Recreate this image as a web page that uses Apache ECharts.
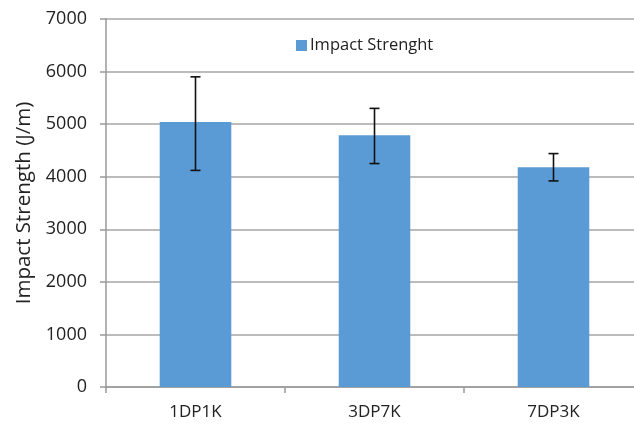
<!DOCTYPE html>
<html><head><meta charset="utf-8">
<script src="https://cdn.jsdelivr.net/npm/echarts@6/dist/echarts.min.js"></script>
<style>html,body{margin:0;padding:0;background:#fff;overflow:hidden}#c{width:644px;height:424px}</style>
</head><body><div id="c"></div>
<script>
const categories = ['1DP1K', '3DP7K', '7DP3K'];
const values = [5040, 4790, 4180];
const errLow = [4120, 4250, 3920];
const errHigh = [5900, 5300, 4440];
const yTicks = [0, 1000, 2000, 3000, 4000, 5000, 6000, 7000];

const font = '"Open Sans", "Noto Sans", sans-serif';
const chart = echarts.init(document.getElementById('c'), null, {renderer: 'canvas'});
chart.setOption({
  animation: false,
  backgroundColor: '#fff',
  textStyle: {fontFamily: font},
  grid: {left: 106, right: 1, top: 19, bottom: 37, containLabel: false},
  legend: {
    data: ['Impact Strenght'],
    left: 296, top: 37, padding: 0,
    itemWidth: 11, itemHeight: 11, itemGap: 4,
    icon: 'rect',
    textStyle: {fontSize: 16.5, color: '#222', fontFamily: font, padding: [0,0,0,-2]}
  },
  xAxis: {
    type: 'category', data: categories,
    axisLine: {lineStyle: {color: '#999', width: 1.5}},
    axisTick: {show: true, length: 6, lineStyle: {color: '#999', width: 1.5}},
    axisLabel: {fontSize: 17, color: '#222', margin: 17, fontFamily: font},
    splitLine: {show: false}
  },
  yAxis: {
    type: 'value', min: yTicks[0], max: yTicks[yTicks.length-1], interval: 1000,
    name: 'Impact Strength (J/m)', nameLocation: 'middle', nameRotate: 90, nameGap: 70,
    nameTextStyle: {fontSize: 20.5, color: '#222', fontFamily: font},
    axisLine: {show: true, lineStyle: {color: '#999', width: 1.5}},
    axisTick: {show: true, length: 6, lineStyle: {color: '#999', width: 1.5}},
    axisLabel: {fontSize: 18, color: '#222', margin: 19, fontFamily: font, formatter: v => String(v)},
    splitLine: {lineStyle: {color: '#a6a6a6', width: 1.5}}
  },
  series: [
    {
      name: 'Impact Strenght', type: 'bar', data: values, barWidth: '40%',
      itemStyle: {color: '#5b9bd5'}
    },
    {
      name: 'err', type: 'custom',
      data: categories.map((c, i) => [i, errLow[i], errHigh[i]]),
      renderItem: function (params, api) {
        const lo = api.coord([api.value(0), api.value(1)]);
        const hi = api.coord([api.value(0), api.value(2)]);
        const hw = 5;
        const st = {stroke: '#111', lineWidth: 1.6};
        return {type: 'group', children: [
          {type: 'line', shape: {x1: hi[0], y1: hi[1], x2: lo[0], y2: lo[1]}, style: st},
          {type: 'line', shape: {x1: hi[0]-hw, y1: hi[1], x2: hi[0]+hw, y2: hi[1]}, style: st},
          {type: 'line', shape: {x1: lo[0]-hw, y1: lo[1], x2: lo[0]+hw, y2: lo[1]}, style: st}
        ]};
      },
      z: 10
    }
  ]
});
</script></body></html>
